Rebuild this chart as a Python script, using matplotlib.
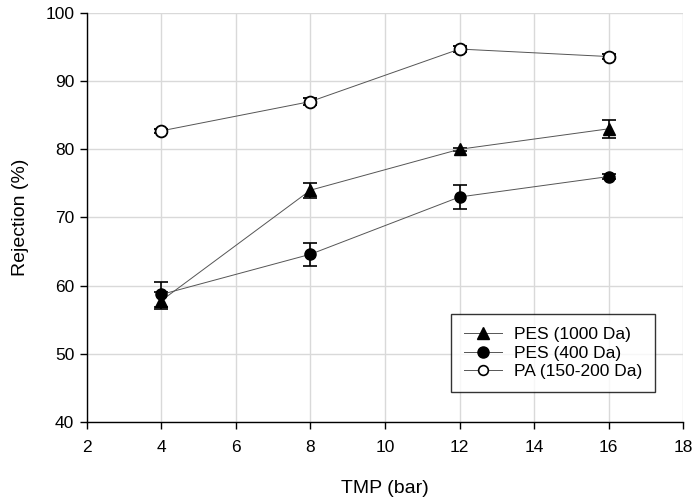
import matplotlib
matplotlib.use("Agg")
import matplotlib.pyplot as plt
from matplotlib.lines import Line2D

plt.rcParams['font.family'] = ['Liberation Sans', 'DejaVu Sans']

tmp = [4, 8, 12, 16]
pes1000 = [57.8, 74.0, 80.0, 83.0]
pes1000_err = [1.2, 1.1, 0.2, 1.35]
pes400 = [58.7, 64.6, 73.0, 76.0]
pes400_err = [1.8, 1.7, 1.75, 0.4]
pa = [82.7, 87.0, 94.7, 93.6]
pa_err = [0.3, 0.5, 0.4, 0.4]
labels = ['PES (1000 Da)', 'PES (400 Da)', 'PA (150-200 Da)']

fig = plt.figure(figsize=(7, 4.97), dpi=100)
ax = fig.add_axes([0.124, 0.151, 0.852, 0.823])

common = dict(color='#555555', lw=0.7, ecolor='black', elinewidth=1.2,
              capsize=5, capthick=1.2, markeredgecolor='black', zorder=3)
ax.errorbar(tmp, pes1000, yerr=pes1000_err, marker='^', markersize=8,
            markerfacecolor='black', **common)
ax.errorbar(tmp, pes400, yerr=pes400_err, marker='o', markersize=8,
            markerfacecolor='black', **common)
ax.errorbar(tmp, pa, yerr=pa_err, marker='o', markersize=8.5,
            markerfacecolor='white', markeredgewidth=1.3, **common)

handles = [
    Line2D([], [], color='#555555', lw=0.7, marker='^', markersize=8,
           markerfacecolor='black', markeredgecolor='black'),
    Line2D([], [], color='#555555', lw=0.7, marker='o', markersize=8,
           markerfacecolor='black', markeredgecolor='black'),
    Line2D([], [], color='#555555', lw=0.7, marker='o', markersize=7,
           markerfacecolor='white', markeredgecolor='black', markeredgewidth=1.2),
]

ax.set_xlim(2, 18)
ax.set_ylim(40, 100)
ax.set_xticks(range(2, 19, 2))
ax.set_yticks(range(40, 101, 10))
ax.grid(True, color='#d9d9d9', lw=1.0, zorder=0)
ax.set_axisbelow(True)
for s in ['top', 'right']:
    ax.spines[s].set_visible(False)
for s in ['left', 'bottom']:
    ax.spines[s].set_linewidth(1.0)
ax.tick_params(direction='out', length=5, width=1.0, labelsize=12.5, colors='black')
ax.tick_params(axis='x', pad=8)
ax.tick_params(axis='y', pad=4)
ax.set_xlabel('TMP (bar)', fontsize=14, labelpad=18)
ax.set_ylabel('Rejection (%)', fontsize=14, labelpad=12)

leg = ax.legend(handles, labels, loc='upper left',
                bbox_to_anchor=(0.61, 0.264), borderaxespad=0,
                fontsize=12.5, frameon=True, fancybox=False,
                edgecolor='black', handlelength=2.2, borderpad=0.75,
                labelspacing=0.2, handletextpad=0.7)
leg.get_frame().set_linewidth(1.0)

fig.savefig('out.png', dpi=100)
